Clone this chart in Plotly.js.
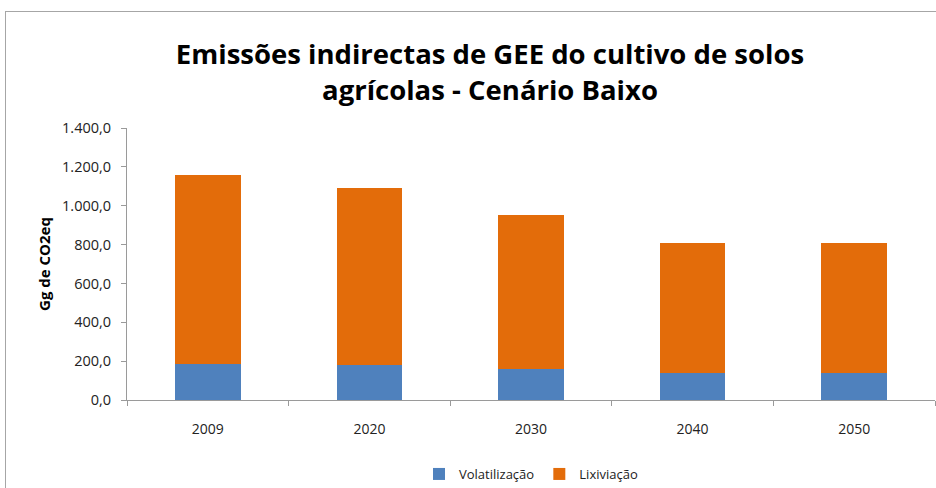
<!DOCTYPE html>
<html>
<head>
<meta charset="utf-8">
<script src="https://cdn.plot.ly/plotly-3.0.1.min.js"></script>
<style>
  html, body { margin: 0; padding: 0; background: #fff; overflow: hidden; }
  #wrap { position: relative; width: 936px; height: 488px; }
  #chart { width: 936px; height: 488px; }
  #frame { position: absolute; left: 5px; top: 11px; width: 1000px; height: 1000px;
           border: 1.5px solid #a6a6a6; pointer-events: none; box-sizing: border-box; }
</style>
</head>
<body>
<div id="wrap">
  <div id="chart"></div>
  <div id="frame"></div>
</div>
<script>
// Data
const years = ['2009', '2020', '2030', '2040', '2050'];
const volatilizacao = [187, 180, 159, 139, 139];
const lixiviacao = [973, 913, 791, 667, 667];
const seriesNames = ['Volatilização', 'Lixiviação'];

const traces = [
  { type: 'bar', name: seriesNames[0], x: years, y: volatilizacao,
    marker: { color: '#4F81BD' }, hoverinfo: 'skip' },
  { type: 'bar', name: seriesNames[1], x: years, y: lixiviacao,
    marker: { color: '#E36C0A' }, hoverinfo: 'skip' }
];

const layout = {
  width: 936, height: 488,
  paper_bgcolor: 'rgba(0,0,0,0)', plot_bgcolor: 'rgba(0,0,0,0)',
  barmode: 'stack', bargap: 0.595,
  separators: ',.',
  font: { family: 'Open Sans, DejaVu Sans, sans-serif', color: '#222', size: 13 },
  margin: { l: 127, r: 1, t: 128, b: 88 },
  title: {
    text: 'Emissões indirectas de GEE do cultivo de solos<br>agrícolas - Cenário Baixo',
    font: { family: 'Open Sans, sans-serif', size: 27.5, weight: 'bold', color: '#000' },
    xref: 'container', yref: 'container', x: 0.5235, xanchor: 'center',
    y: 1 - 64 / 488, yanchor: 'top'
  },
  xaxis: {
    type: 'category', showline: true, linecolor: '#9a9a9a', linewidth: 1,
    ticks: 'outside', tickson: 'boundaries', ticklen: 5, tickcolor: '#9a9a9a',
    showgrid: false, zeroline: false, ticklabelstandoff: 16,
    tickfont: { size: 14, color: '#222' }
  },
  yaxis: {
    range: [0, 1400], dtick: 200, tickformat: ',.1f',
    showline: true, linecolor: '#9a9a9a', linewidth: 1,
    ticks: 'outside', ticklen: 5, tickcolor: '#9a9a9a',
    showgrid: false, zeroline: false, ticklabelstandoff: 7,
    tickfont: { size: 14.5, color: '#222' },
    title: { text: 'Gg de CO2eq', font: { size: 15, weight: 'bold', color: '#000' }, standoff: 7 }
  },
  legend: {
    orientation: 'h', x: 0.5, xanchor: 'center', xref: 'paper',
    y: 1 - 474 / 488, yref: 'container', yanchor: 'middle',
    font: { size: 13, color: '#222' }, itemwidth: 30, traceorder: 'normal'
  },
  showlegend: true
};

Plotly.newPlot('chart', traces, layout, { staticPlot: true, displayModeBar: false });
</script>
</body>
</html>
